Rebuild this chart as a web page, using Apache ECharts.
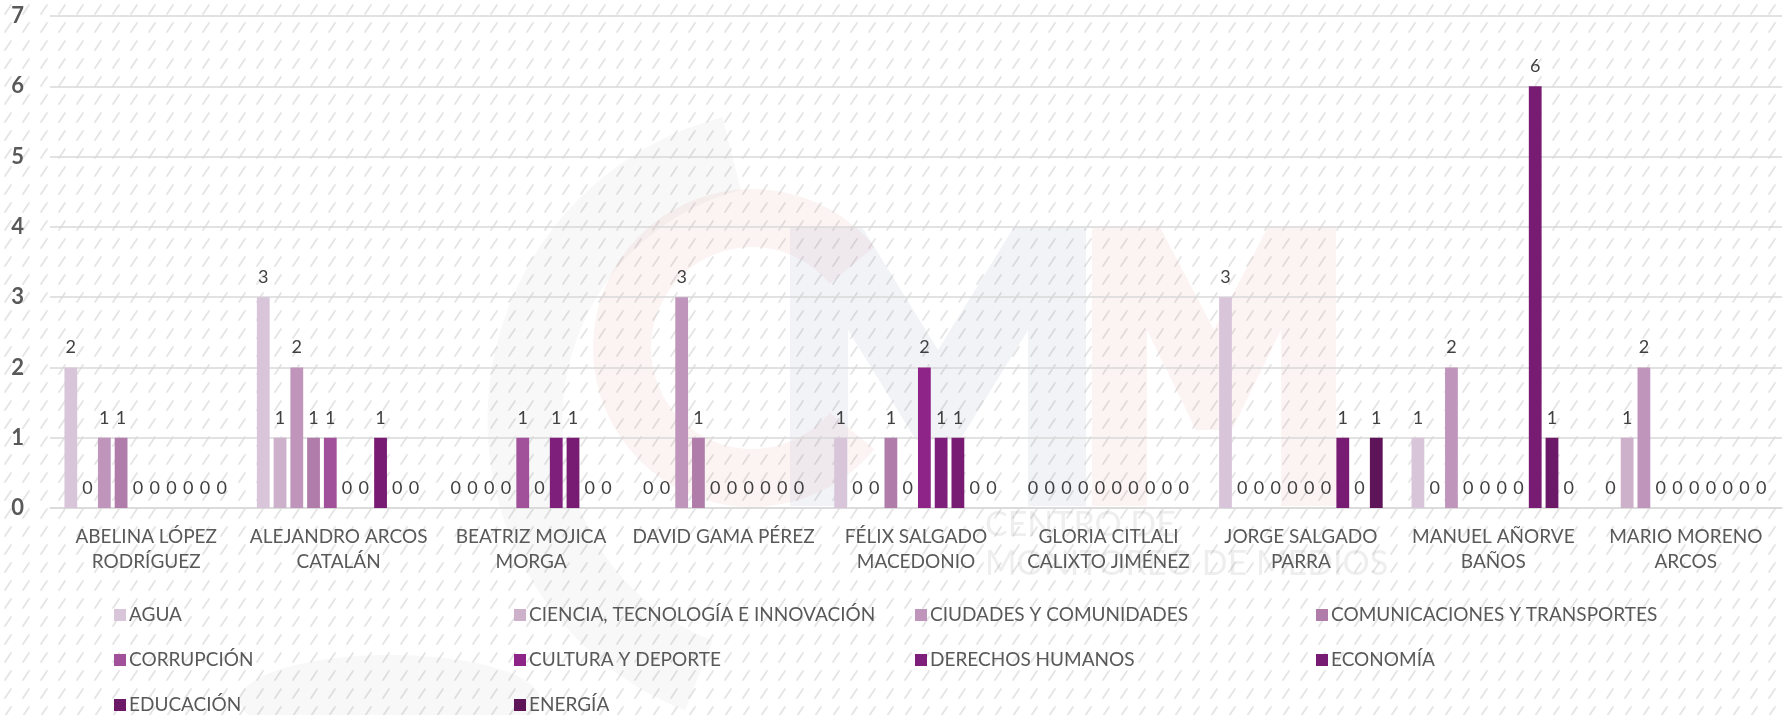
<!DOCTYPE html>
<html>
<head>
<meta charset="utf-8">
<script src="https://cdn.jsdelivr.net/npm/echarts@6/dist/echarts.min.js"></script>
<style>
html,body{margin:0;padding:0;background:#fff;}
#chart{width:1783px;height:715px;}
</style>
</head>
<body>
<div id="chart"></div>
<script>
const categories = [
  'ABELINA LÓPEZ\nRODRÍGUEZ',
  'ALEJANDRO ARCOS\nCATALÁN',
  'BEATRIZ MOJICA\nMORGA',
  'DAVID GAMA PÉREZ',
  'FÉLIX SALGADO\nMACEDONIO',
  'GLORIA CITLALI\nCALIXTO JIMÉNEZ',
  'JORGE SALGADO\nPARRA',
  'MANUEL AÑORVE\nBAÑOS',
  'MARIO MORENO\nARCOS'
];
const seriesNames = [
  'AGUA', 'CIENCIA, TECNOLOGÍA E INNOVACIÓN', 'CIUDADES Y COMUNIDADES',
  'COMUNICACIONES Y TRANSPORTES', 'CORRUPCIÓN', 'CULTURA Y DEPORTE',
  'DERECHOS HUMANOS', 'ECONOMÍA', 'EDUCACIÓN', 'ENERGÍA'
];
const seriesColors = ['#d9c5da', '#cdb0c9', '#bf95bb', '#b07dab', '#a0519a', '#8e2488', '#7f1f7c', '#771c72', '#6c1a68', '#5e1458'];
const agua           = [2, 3, 0, 0, 1, 0, 3, 1, 0];
const ciencia        = [0, 1, 0, 0, 0, 0, 0, 0, 1];
const ciudades       = [1, 2, 0, 3, 0, 0, 0, 2, 2];
const comunicaciones = [1, 1, 0, 1, 1, 0, 0, 0, 0];
const corrupcion     = [0, 1, 1, 0, 0, 0, 0, 0, 0];
const cultura        = [0, 0, 0, 0, 2, 0, 0, 0, 0];
const derechos       = [0, 0, 1, 0, 1, 0, 0, 0, 0];
const economia       = [0, 1, 1, 0, 1, 0, 1, 6, 0];
const educacion      = [0, 0, 0, 0, 0, 0, 0, 1, 0];
const energia        = [0, 0, 0, 0, 0, 0, 1, 0, 0];
const yTicks = [0, 1, 2, 3, 4, 5, 6, 7];
const seriesValues = [agua, ciencia, ciudades, comunicaciones, corrupcion, cultura, derechos, economia, educacion, energia];
const watermarkLines = ['CENTRO DE', 'MONITOREO DE MEDIOS'];

// background hatch tile
const tile = document.createElement('canvas');
tile.width = 18; tile.height = 18;
const ctx = tile.getContext('2d');
ctx.fillStyle = '#ffffff';
ctx.fillRect(0, 0, 18, 18);
ctx.strokeStyle = '#e4e4e4';
ctx.lineWidth = 1.8;
ctx.lineCap = 'round';
ctx.beginPath();
ctx.moveTo(5, 14); ctx.lineTo(11, 5);
ctx.stroke();

const FONT = 'Lato, "Open Sans", sans-serif';
const chart = echarts.init(document.getElementById('chart'), null, {renderer: 'canvas'});

const series = seriesNames.map((name, i) => ({
  name: name,
  type: 'bar',
  data: seriesValues[i],
  barGap: '31%',
  barCategoryGap: '15%',
  itemStyle: {color: seriesColors[i]},
  z: 5,
  label: {
    show: true,
    position: 'top',
    distance: 11,
    color: '#404040',
    fontFamily: FONT,
    fontSize: 18
  }
}));

const legendCols = [
  {left: 114, items: [0, 4, 8]},
  {left: 514, items: [1, 5, 9]},
  {left: 915, items: [2, 6]},
  {left: 1316, items: [3, 7]}
];

const wmPink = 'rgba(225,120,125,0.09)';
const wmBlue = 'rgba(110,120,165,0.09)';
const wmGray = 'rgba(150,150,150,0.07)';

chart.setOption({
  backgroundColor: {image: tile, repeat: 'repeat'},
  animation: false,
  graphic: [
    {type: 'arc', z: -10, silent: true,
      shape: {cx: 800, cy: 420, r: 275, startAngle: Math.PI * 0.62, endAngle: Math.PI * 1.42},
      style: {fill: null, stroke: wmGray, lineWidth: 75}},
    {type: 'ellipse', z: -10, silent: true,
      shape: {cx: 390, cy: 700, rx: 150, ry: 45},
      style: {fill: wmGray}},
    {type: 'arc', z: -10, silent: true,
      shape: {cx: 752, cy: 348, r: 130, startAngle: Math.PI * 0.22, endAngle: Math.PI * 1.78},
      style: {fill: null, stroke: wmPink, lineWidth: 58}},
    {type: 'polygon', z: -10, silent: true,
      shape: {points: [[790,506],[790,227],[862,227],[938,350],[1014,227],[1086,227],[1086,506],[1028,506],[1028,330],[960,440],[916,440],[848,330],[848,506]]},
      style: {fill: wmBlue}},
    {type: 'polygon', z: -10, silent: true,
      shape: {points: [[1092,506],[1092,227],[1160,227],[1214,330],[1268,227],[1336,227],[1336,506],[1281,506],[1281,330],[1232,430],[1196,430],[1147,330],[1147,506]]},
      style: {fill: wmPink}},
    {type: 'text', z: -10, silent: true, left: 985, top: 508,
      style: {text: watermarkLines[0], fill: 'rgba(120,120,120,0.13)', font: '34px Lato, sans-serif'}},
    {type: 'text', z: -10, silent: true, left: 985, top: 547,
      style: {text: watermarkLines[1], fill: 'rgba(120,120,120,0.13)', font: '34px Lato, sans-serif'}}
  ],
  grid: {left: 50, right: 1, top: 16, bottom: 207, containLabel: false},
  legend: legendCols.map(c => ({
    orient: 'vertical',
    left: c.left,
    top: 605,
    height: 160,
    padding: 0,
    itemGap: 25,
    itemWidth: 12,
    itemHeight: 12,
    icon: 'rect',
    selectedMode: false,
    data: c.items.map(k => seriesNames[k]),
    textStyle: {color: '#595959', fontFamily: FONT, fontSize: 19, lineHeight: 20, padding: [0, 0, 0, -2]}
  })),
  xAxis: {
    type: 'category',
    data: categories,
    axisTick: {show: false},
    axisLine: {show: true, lineStyle: {color: '#d9d9d9', width: 1.5}},
    axisLabel: {
      color: '#595959',
      fontFamily: FONT,
      fontSize: 19,
      lineHeight: 25,
      margin: 16,
      interval: 0
    }
  },
  yAxis: {
    type: 'value',
    min: yTicks[0],
    max: yTicks[yTicks.length - 1],
    interval: 1,
    axisLine: {show: false},
    axisTick: {show: false},
    splitLine: {lineStyle: {color: '#d9d9d9', width: 1.5}},
    axisLabel: {
      color: '#595959',
      fontFamily: FONT,
      fontSize: 22,
      fontWeight: 'bold',
      margin: 26
    }
  },
  series: series
});
</script>
</body>
</html>
